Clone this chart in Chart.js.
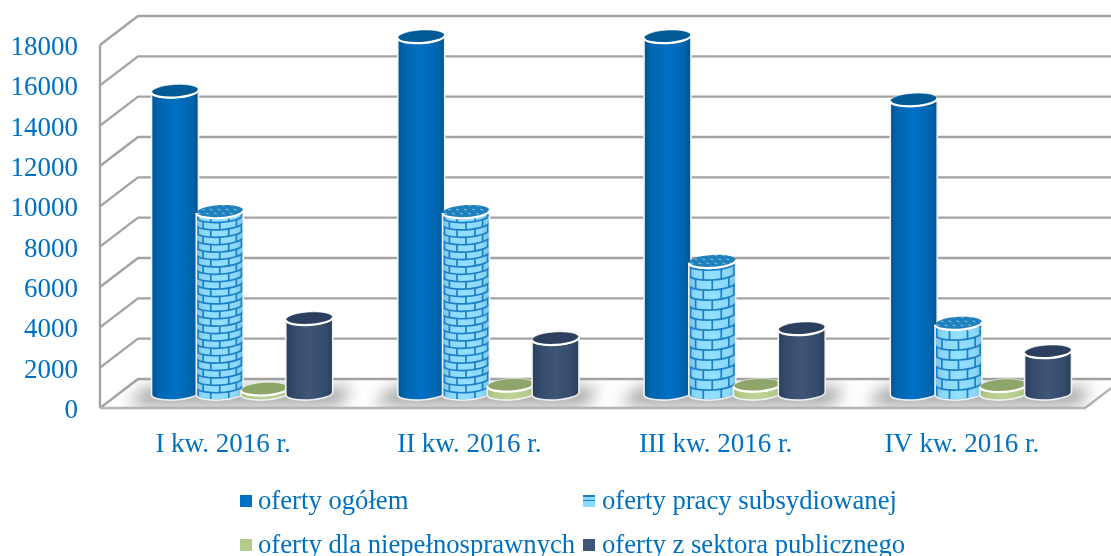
<!DOCTYPE html>
<html>
<head>
<meta charset="utf-8">
<script src="https://cdn.jsdelivr.net/npm/chart.js@4"></script>
<style>
    html, body { margin: 0; padding: 0; background: #fff; overflow: hidden; }
    #wrap { position: relative; width: 1111px; height: 556px; }
    .leg { position: absolute; font: 26.7px "Liberation Serif", serif; color: #0070C0; line-height: 30px; white-space: nowrap; }
    .sw { position: absolute; width: 12px; height: 12px; }
</style>
</head>
<body>
<div id="wrap"><canvas id="chart" width="1111" height="556"></canvas><div id="legend"></div></div>
<script>
const categories = ['I kw. 2016 r.', 'II kw. 2016 r.', 'III kw. 2016 r.', 'IV kw. 2016 r.'];
const ofertyOgolem = [15000, 17700, 17700, 14570];
const ofertyPracy = [9020, 9020, 6550, 3480];
const ofertyNiepelnosprawni = [230, 420, 420, 400];
const ofertySektor = [3720, 2730, 3220, 2080];
const yTicks = [0, 2000, 4000, 6000, 8000, 10000, 12000, 14000, 16000, 18000];

const TEXT = '#0070C0';
const GRID = '#A3A3A3';
const DX = 38, DY = -29;   // depth of the floor
const LIFT = 3;            // tick text sits a little low against the lines
const ROT = -0.06;         // the lids lean slightly

const looks = [
    { edge: '#005491', side: '#0065AE', mid: '#0070C4', top: '#005A96' },
    { edge: '#76BFE2', side: '#8CD8F8', mid: '#93DFFF', top: '#1F80BE', bricks: true },
    { edge: '#A3BA78', side: '#B5CB8A', mid: '#BDD394', top: '#8FA66B' },
    { edge: '#2A3D5C', side: '#344A6A', mid: '#3F5678', top: '#2C3F5E' }
];
// the brick texture is not the same size in every quarter
const brickRowH = [7.4, 7.4, 10, 10];

function bodyPath(ctx, x, top, bottom, rx, ry) {
    ctx.beginPath();
    ctx.ellipse(x, bottom, rx, ry, ROT, Math.PI, 0, true);
    ctx.ellipse(x, top, rx, ry, ROT, 0, Math.PI, false);
    ctx.closePath();
}

function drawBricks(ctx, x, top, bottom, rx, ry, rowH) {
    ctx.save();
    bodyPath(ctx, x, top, bottom, rx, ry);
    ctx.clip();
    ctx.strokeStyle = '#1C7FC6';
    ctx.lineWidth = 1.7;
    let row = 0;
    for (let y = bottom + ry; y > top - rowH; y -= rowH, row++) {
        // course line, curved round the cylinder
        ctx.beginPath();
        ctx.ellipse(x, y - ry, rx, ry, ROT, 0, Math.PI);
        ctx.stroke();
        // joints
        for (let a = -90 + (row % 2 ? 0 : 22.5); a < 90; a += 45) {
            const t = a * Math.PI / 180;
            const jx = x + rx * Math.sin(t);
            const jy = y - ry + ry * Math.cos(t) + (jx - x) * Math.sin(ROT);
            ctx.beginPath();
            ctx.moveTo(jx, jy);
            ctx.lineTo(jx, jy - rowH);
            ctx.stroke();
        }
    }
    ctx.restore();
}

function drawCylinder(ctx, bar, look, rowH) {
    const x = bar.x + DX / 2, rx = bar.width / 2, ry = 6.5;
    const top = bar.y + DY / 2 - LIFT, bottom = bar.base + DY / 2 - LIFT;

    ctx.save();
    const g = ctx.createLinearGradient(x - rx, 0, x + rx, 0);
    g.addColorStop(0, look.edge);
    g.addColorStop(0.15, look.side);
    g.addColorStop(0.5, look.mid);
    g.addColorStop(0.85, look.side);
    g.addColorStop(1, look.edge);
    bodyPath(ctx, x, top, bottom, rx, ry);
    ctx.fillStyle = g;
    ctx.fill();
    if (look.bricks) {
        drawBricks(ctx, x, top, bottom, rx, ry, rowH);
    }
    bodyPath(ctx, x, top, bottom, rx, ry);
    ctx.strokeStyle = '#EEF2F5';
    ctx.lineWidth = 1.6;
    ctx.stroke();

    // lid
    ctx.beginPath();
    ctx.ellipse(x, top, rx, ry, ROT, 0, Math.PI * 2);
    ctx.fillStyle = look.top;
    ctx.fill();
    if (look.bricks) {
        ctx.save();
        ctx.clip();
        ctx.strokeStyle = '#7CC6EA';
        ctx.lineWidth = 1;
        for (let i = -rx; i < rx; i += 8) {
            for (let j = -ry; j < ry; j += 4) {
                ctx.beginPath();
                ctx.moveTo(x + i + (j % 8), top + j);
                ctx.lineTo(x + i + (j % 8) + 3, top + j + 1);
                ctx.stroke();
            }
        }
        ctx.restore();
    }
    ctx.strokeStyle = 'rgba(255,255,255,0.6)';
    ctx.lineWidth = 1;
    ctx.stroke();
    ctx.beginPath();
    ctx.ellipse(x, top, rx, ry, ROT, 0, Math.PI);
    ctx.strokeStyle = '#FFFFFF';
    ctx.lineWidth = 2.2;
    ctx.stroke();
    ctx.restore();
}

// walls and floor, drawn from the value axis so the lines sit on the ticks
const wallsPlugin = {
    id: 'walls',
    beforeDatasetsDraw(chart) {
        const { ctx, chartArea: a, scales: { y } } = chart;
        const floorY = a.bottom - LIFT;
        ctx.save();
        ctx.lineJoin = 'round';
        y.ticks.forEach(t => {
            const py = y.getPixelForValue(t.value) - LIFT;
            ctx.beginPath();
            ctx.moveTo(a.left, py);
            ctx.lineTo(a.left + DX, py + DY);
            ctx.lineTo(1111, py + DY);
            ctx.strokeStyle = GRID;
            ctx.lineWidth = 2.4;
            ctx.stroke();
        });
        // left wall front edge
        ctx.beginPath();
        ctx.moveTo(a.left, a.top - LIFT);
        ctx.lineTo(a.left, floorY);
        ctx.stroke();

        // floor front edge
        ctx.beginPath();
        ctx.moveTo(a.left, floorY);
        ctx.lineTo(a.right, floorY);
        ctx.lineTo(a.right + DX, floorY + DY);
        ctx.strokeStyle = '#B4B4B4';
        ctx.stroke();
        ctx.restore();

        // soft shadow of each group on the floor
        const first = chart.getDatasetMeta(0).data;
        const last = chart.getDatasetMeta(3).data;
        ctx.save();
        ctx.beginPath();
        ctx.rect(a.left, floorY + DY, 1111, -DY - 1);
        ctx.clip();
        first.forEach((bar, i) => {
            const l = bar.x - bar.width / 2 + DX / 2;
            const r = last[i].x + last[i].width / 2 + DX / 2;
            ctx.shadowColor = 'rgba(90,90,90,0.6)';
            ctx.shadowBlur = 16;
            ctx.shadowOffsetX = 2000;
            ctx.fillStyle = '#000';
            ctx.beginPath();
            ctx.moveTo(l - 2000 - 24, floorY - 3);
            ctx.lineTo(r - 2000 + 6, floorY - 3);
            ctx.lineTo(r - 2000 + 20, floorY - 20);
            ctx.lineTo(l - 2000 - 6, floorY - 20);
            ctx.closePath();
            ctx.fill();
        });
        ctx.restore();

        // cylinders in dataset order, so each one overlaps the one before it
        chart.data.datasets.forEach((ds, d) => {
            chart.getDatasetMeta(d).data.forEach((bar, i) => {
                drawCylinder(ctx, bar, looks[d], brickRowH[i]);
            });
        });
    },
    // the library's flat rectangles are replaced by the cylinders above
    beforeDatasetDraw() {
        return false;
    }
};

const series = [
    { label: 'oferty ogółem', data: ofertyOgolem },
    { label: 'oferty pracy subsydiowanej', data: ofertyPracy },
    { label: 'oferty dla niepełnosprawnych', data: ofertyNiepelnosprawni },
    { label: 'oferty z sektora publicznego', data: ofertySektor }
];

const tickFont = { family: '"Liberation Serif", serif', size: 27 };

new Chart(document.getElementById('chart').getContext('2d'), {
    type: 'bar',
    data: {
        labels: categories,
        datasets: series.map((s, i) => ({
            label: s.label,
            data: s.data,
            backgroundColor: looks[i].mid,
            categoryPercentage: 0.727,
            barPercentage: 1.05
        }))
    },
    options: {
        responsive: false,
        animation: false,
        layout: { padding: { top: 48, right: 26, left: 0, bottom: 0 } },
        scales: {
            x: {
                grid: { display: false },
                border: { display: false },
                ticks: { color: TEXT, font: tickFont, padding: 10, maxRotation: 0 },
                afterFit: s => { s.height = 145; }
            },
            y: {
                min: 0,
                max: 18000,
                afterBuildTicks: s => { s.ticks = yTicks.map(v => ({ value: v })); },
                grid: { display: false },
                border: { display: false },
                ticks: { color: TEXT, font: tickFont, padding: 14, callback: v => String(v) },
                afterFit: s => { s.width = 100; }
            }
        },
        plugins: { legend: { display: false }, tooltip: { enabled: false } }
    },
    plugins: [wallsPlugin]
});

// legend: two columns, two rows
const legendPos = [[240, 258, 500], [583, 602, 500], [240, 258, 544], [583, 602, 544]];
const legendSw = ['#0070C0', null, '#B5CB8A', '#3F5678'];
const legendBox = document.getElementById('legend');
series.forEach((s, i) => {
    const [sx, tx, cy] = legendPos[i];
    const sw = document.createElement('div');
    sw.className = 'sw';
    sw.style.left = sx + 'px';
    sw.style.top = (cy - 5) + 'px';
    sw.style.background = legendSw[i] ||
        'linear-gradient(#1C7FC6 0 2px, #8ADCFF 2px 5px, #1C7FC6 5px 6px, #8ADCFF 6px)';
    legendBox.appendChild(sw);
    const t = document.createElement('div');
    t.className = 'leg';
    t.textContent = s.label;
    t.style.left = tx + 'px';
    t.style.top = (cy - 15) + 'px';
    legendBox.appendChild(t);
});
</script>
</body>
</html>
